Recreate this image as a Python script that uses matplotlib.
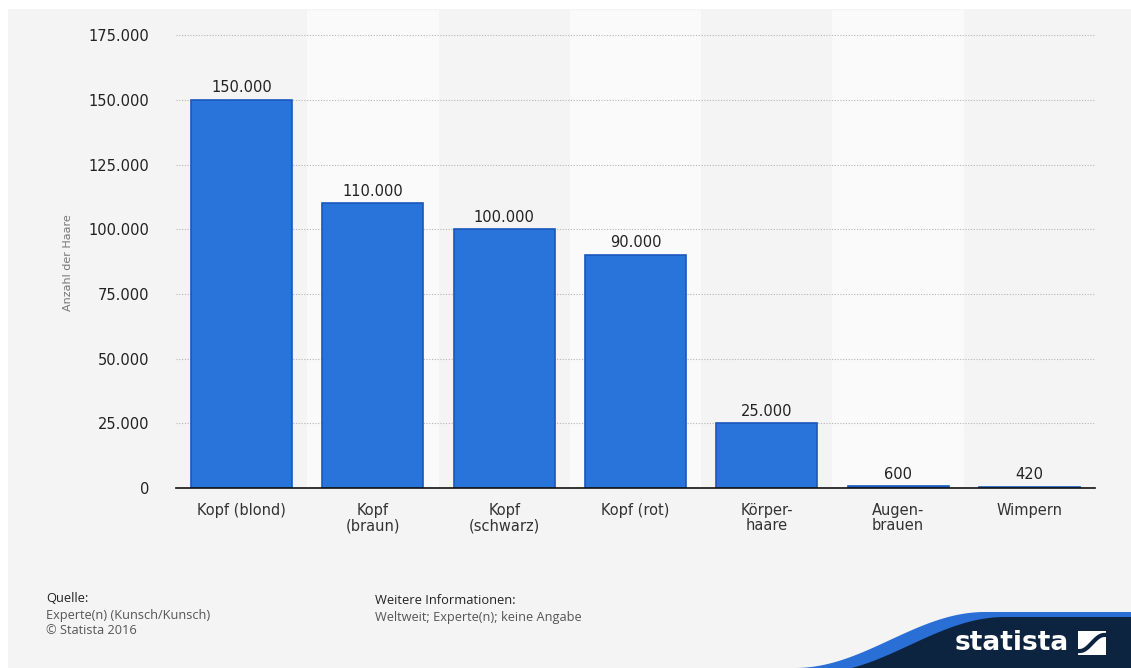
import matplotlib.pyplot as plt
from matplotlib.patches import Polygon, Rectangle
import numpy as np

plt.rcParams["font.family"] = ["DejaVu Sans"]

categories = ["Kopf (blond)", "Kopf\n(braun)", "Kopf\n(schwarz)", "Kopf (rot)",
              "Körper-\nhaare", "Augen-\nbrauen", "Wimpern"]
values = [150000, 110000, 100000, 90000, 25000, 600, 420]
yticks = [0, 25000, 50000, 75000, 100000, 125000, 150000, 175000]


def fmt(v):
    return "{:,}".format(v).replace(",", ".")


W, H = 1131, 668
fig = plt.figure(figsize=(W / 100, H / 100), dpi=100, facecolor="white")

# gray panel (white frame on top and left)
fig.patches.append(Rectangle((8 / W, 0), 1, (H - 9) / H, transform=fig.transFigure,
                             facecolor="#f4f4f4", edgecolor="none", zorder=-1))

ax = fig.add_axes([176 / W, 180 / H, (1095 - 176) / W, (488 - 10) / H])
ax.set_facecolor("none")
x = np.arange(len(categories))
ax.set_xlim(-0.5, len(categories) - 0.5)
ax.set_ylim(0, 184700)

# alternating column stripes
for i in x:
    ax.axvspan(i - 0.5, i + 0.5, color="#f4f4f4" if i % 2 == 0 else "#fafafa",
               zorder=0, lw=0)

for t in yticks[1:]:
    ax.axhline(t, color="#b5b5b5", lw=0.8, ls=(0, (1, 1.5)), zorder=1)

ax.bar(x, values, width=0.77, color="#2874db", edgecolor="#1a58bb", linewidth=1.2,
       zorder=3)
for xi, v in zip(x, values):
    ax.text(xi, v + 1800, fmt(v), ha="center", va="bottom", fontsize=10.5,
            color="#222222", zorder=4)

for s in ["top", "right", "left"]:
    ax.spines[s].set_visible(False)
ax.spines["bottom"].set_color("#111111")
ax.spines["bottom"].set_linewidth(1.2)
ax.spines["bottom"].set_zorder(5)

ax.set_yticks(yticks)
ax.set_yticklabels([fmt(t) for t in yticks], fontsize=10.5, color="#222222")
ax.set_xticks(x)
ax.set_xticklabels(categories, fontsize=10.5, color="#333333", linespacing=1.0)
ax.tick_params(axis="both", length=0)
ax.tick_params(axis="y", pad=19)
ax.tick_params(axis="x", pad=11)

fig.text(68 / W, 1 - 263 / H, "Anzahl der Haare", rotation=90, ha="center",
         va="center", fontsize=8, color="#777777")

# footer
fig.text(46 / W, 1 - 599 / H, "Quelle:", fontsize=9.3, color="#222222",
         family="Open Sans", va="center")
fig.text(46 / W, 1 - 615 / H, "Experte(n) (Kunsch/Kunsch)", fontsize=9.2,
         color="#555555", family="Open Sans", va="center")
fig.text(46 / W, 1 - 631 / H, "© Statista 2016", fontsize=9.2, color="#555555",
         family="Open Sans", va="center")
fig.text(375 / W, 1 - 600 / H, "Weitere Informationen:", fontsize=9.3,
         color="#222222", family="Open Sans", va="center")
fig.text(375 / W, 1 - 618 / H, "Weltweit; Experte(n); keine Angabe", fontsize=9.2,
         color="#555555", family="Open Sans", va="center")

# statista logo swoosh
t = np.linspace(0, 1, 60)
xs = 795 + (985 - 795) * t
ys = 668 - (668 - 612) * (0.5 - 0.5 * np.cos(np.pi * t))
top = [(xx / W, 1 - yy / H) for xx, yy in zip(xs, ys)] + [(1, 1 - 612 / H)]
fig.patches.append(Polygon(top + [(1, 0), (795 / W, 0)], closed=True,
                           transform=fig.transFigure, facecolor="#2a6fd6",
                           edgecolor="none", zorder=1))
ys2 = ys + 5
xs2 = xs + 20
top2 = [(xx / W, 1 - yy / H) for xx, yy in zip(xs2, ys2)] + [(1, 1 - 617 / H)]
fig.patches.append(Polygon(top2 + [(1, 0), (815 / W, 0)], closed=True,
                           transform=fig.transFigure, facecolor="#0d2440",
                           edgecolor="none", zorder=2))
fig.text(1012 / W, 1 - 643 / H, "statista", fontsize=19, fontweight="bold",
         color="white", ha="center", va="center", zorder=3)
fig.patches.append(Rectangle((1078 / W, 1 - 655 / H), 28 / W, 24 / H,
                             transform=fig.transFigure, facecolor="white",
                             edgecolor="none", zorder=3))
sx = np.linspace(1080, 1104, 30)
sy = 651 - 16 * (0.5 - 0.5 * np.cos(np.pi * (sx - 1080) / 24))
fig.lines.append(plt.Line2D(sx / W, 1 - sy / H, transform=fig.transFigure,
                            color="#0d2440", lw=3, zorder=4))

fig.savefig("out.png", dpi=100, facecolor=fig.get_facecolor())
